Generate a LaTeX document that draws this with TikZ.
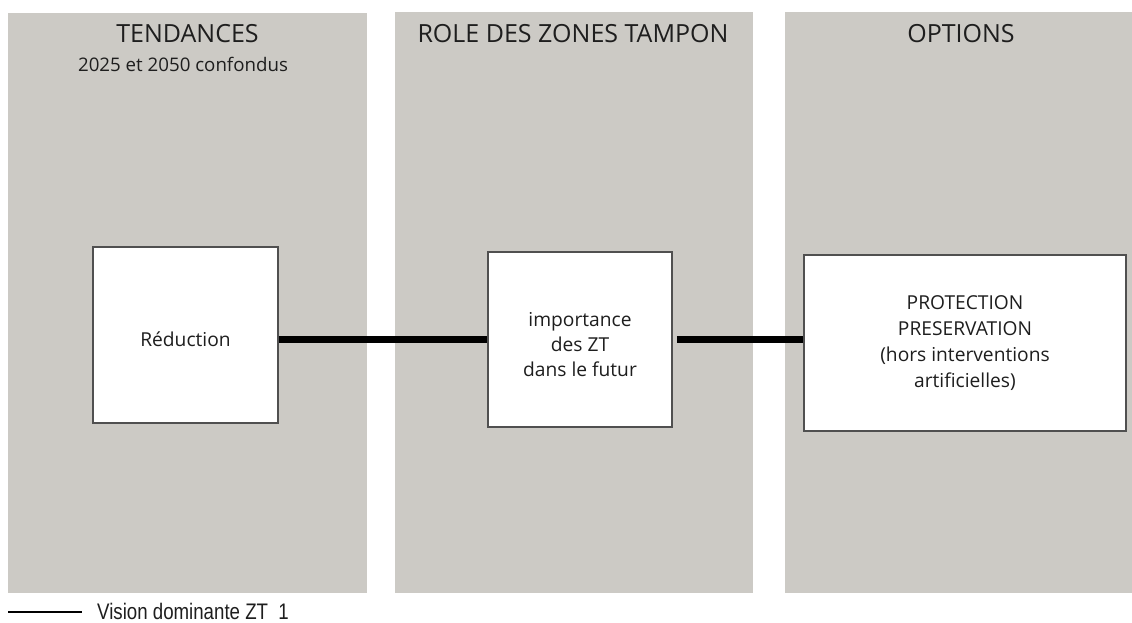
\documentclass[tikz,border=0pt]{standalone}
\usepackage{fontspec}
\setmainfont{Open Sans}
\newfontfamily\condfont[FakeStretch=0.83]{Liberation Sans}
\usetikzlibrary{positioning}
\definecolor{colgrey}{RGB}{204,202,197}
\definecolor{boxline}{RGB}{80,80,80}
\definecolor{txtgrey}{RGB}{30,30,30}

\begin{document}
\begin{tikzpicture}[x=1pt, y=-1pt,
  col/.style={fill=colgrey, inner sep=0pt, anchor=north west},
  title/.style={font=\fontsize{25}{28}\selectfont, text=txtgrey},
  box/.style={draw=boxline, line width=1.5pt, fill=white, inner sep=0pt},
  boxtext/.style={align=center, text=txtgrey,
                  font=\fontsize{19.2}{25}\selectfont},
  link/.style={line width=6.5pt, black}
]
  \useasboundingbox (0,0) rectangle (1132,622);
  % colonnes
  \node[col, minimum width=359pt, minimum height=580pt] (c1) at (8,13) {};
  \node[col, minimum width=358pt, minimum height=581pt] (c2) at (395,12) {};
  \node[col, minimum width=347pt, minimum height=581pt] (c3) at (785,12) {};
  \node[title] (t1) at (187.5,34) {TENDANCES};
  \node[font=\fontsize{18.7}{20}\selectfont, text=txtgrey] (t1b) at (183,64) {2025 et 2050 confondus};
  \node[title] (t2) at (573,34) {ROLE DES ZONES TAMPON};
  \node[title] (t3) at (961,34) {OPTIONS};
  % boites
  \node[box, minimum width=185pt, minimum height=176pt,
        label={[boxtext, yshift=-4pt]center:Réduction}] (b1) at (185.5,335) {};
  \node[box, minimum width=184pt, minimum height=175pt,
        label={[boxtext, yshift=-5pt]center:importance\\des ZT\\dans le futur}] (b2) at (580,339.5) {};
  \node[box, minimum width=322pt, minimum height=176pt,
        label={[boxtext, font=\fontsize{19.2}{25.8}\selectfont]center:PROTECTION\\PRESERVATION\\(hors interventions\\artificielles)}] (b3) at (965,343) {};
  \draw[link] (b1.east |- b2.west) -- (b2.west);
  \draw[link] ([xshift=4pt]b2.east) -- (b3.west |- b2.east);
  % legende
  \coordinate (l0) at (8,612);
  \node[anchor=base west, inner sep=0pt, text=txtgrey,
        font=\condfont\fontsize{22.5}{24}\selectfont] (leg) at (97,619) {Vision dominante ZT\ \ 1};
  \draw[line width=1.5pt] (l0) -- ([xshift=-15pt]leg.west |- l0);
\end{tikzpicture}
\end{document}
